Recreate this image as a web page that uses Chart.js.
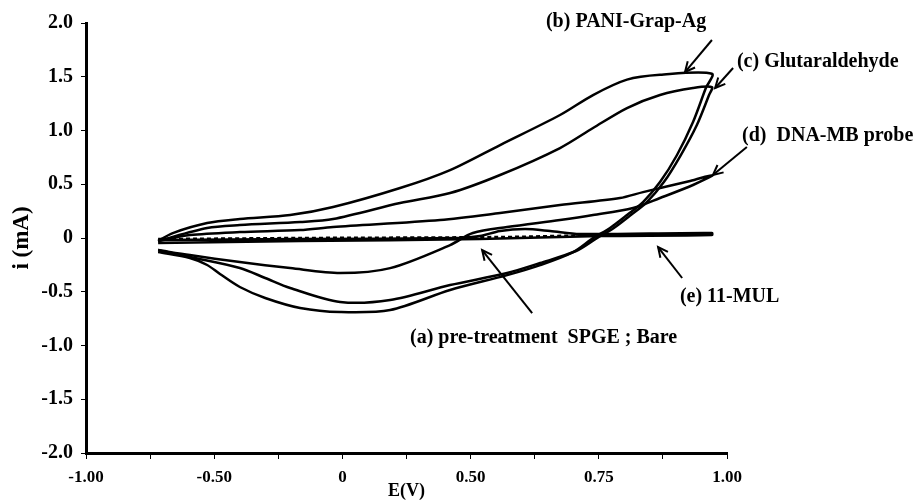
<!DOCTYPE html>
<html>
<head>
<meta charset="utf-8">
<script src="https://cdn.jsdelivr.net/npm/chart.js@4"></script>
<style>
  body { margin: 0; background: #fff; }
  canvas { display: block; }
</style>
</head>
<body>
<canvas id="cv" width="920" height="502"></canvas>
<script>
// tick labels as printed on the figure (one per axis tick)
const xTickLabels = ["-1.00", "", "-0.50", "", "0", "", "0.50", "", "0.75", "", "1.00"];
const yTickLabels = ["-2.0", "-1.5", "-1.0", "-0.5", "0", "0.5", "1.0", "1.5", "2.0"];

// [E, i(mA)], E in axis units
const bare = [[-0.775, -0.019], [-0.332, -0.010], [0.167, 0.0], [0.229, 0.018], [0.292, 0.065], [0.370, 0.083], [0.448, 0.065], [0.541, 0.037], [0.953, 0.046],
  [0.953, 0.027], [0.604, 0.018], [0.229, -0.010], [-0.332, -0.028], [-0.775, -0.047]];
const pani = [[-0.775, -0.028], [-0.729, 0.046], [-0.622, 0.139], [-0.520, 0.176], [-0.363, 0.213], [-0.229, 0.288], [-0.020, 0.465], [0.136, 0.632], [0.292, 0.865], [0.479, 1.144], [0.582, 1.330], [0.688, 1.473], [0.791, 1.518], [0.953, 1.528],
  [0.934, 1.395], [0.894, 1.079], [0.844, 0.772], [0.791, 0.520], [0.738, 0.334], [0.688, 0.213], [0.635, 0.093], [0.582, -0.001], [0.520, -0.131], [0.417, -0.252], [0.314, -0.345], [0.136, -0.484], [-0.051, -0.670], [-0.207, -0.689], [-0.332, -0.651], [-0.441, -0.558], [-0.520, -0.456], [-0.582, -0.335], [-0.622, -0.251], [-0.676, -0.186], [-0.775, -0.131]];
const glut = [[-0.775, -0.028], [-0.622, 0.093], [-0.520, 0.120], [-0.332, 0.148], [-0.229, 0.176], [-0.020, 0.325], [0.136, 0.418], [0.292, 0.586], [0.479, 0.837], [0.582, 1.023], [0.688, 1.209], [0.791, 1.330], [0.894, 1.395], [0.953, 1.404],
  [0.944, 1.330], [0.906, 1.051], [0.856, 0.772], [0.803, 0.520], [0.750, 0.334], [0.700, 0.213], [0.647, 0.093], [0.594, -0.001], [0.529, -0.121], [0.417, -0.233], [0.314, -0.326], [0.136, -0.438], [-0.051, -0.577], [-0.207, -0.595], [-0.363, -0.465], [-0.441, -0.372], [-0.520, -0.279], [-0.676, -0.177], [-0.775, -0.112]];
const probe = [[-0.775, -0.028], [-0.676, 0.027], [-0.520, 0.055], [-0.332, 0.074], [-0.229, 0.102], [0.105, 0.167], [0.292, 0.232], [0.479, 0.306], [0.666, 0.372], [0.738, 0.427], [0.885, 0.530], [0.956, 0.586],
  [0.894, 0.493], [0.791, 0.372], [0.707, 0.279], [0.582, 0.213], [0.479, 0.167], [0.314, 0.102], [0.207, 0.046], [0.136, -0.066], [-0.051, -0.280], [-0.207, -0.326], [-0.363, -0.280], [-0.520, -0.224], [-0.676, -0.159], [-0.775, -0.112]];
const mul = [[-0.775, -0.010], [-0.332, 0.0], [0.292, 0.009], [0.604, 0.027], [0.953, 0.037]];

// labels with arrows: text anchor, arrow tail, arrow head (data units)
const notes = [
  { text: "(b) PANI-Grap-Ag", at: [0.685, 2.009], align: "center", from: [0.953, 1.842], to: [0.869, 1.544] },
  { text: "(c) Glutaraldehyde", at: [1.031, 1.637], align: "left", from: [1.019, 1.581], to: [0.963, 1.395] },
  { text: "(d)  DNA-MB probe", at: [1.047, 0.949], align: "left", from: [1.062, 0.847], to: [0.956, 0.586] },
  { text: "(e) 11-MUL", at: [0.853, -0.549], align: "left", from: [0.86, -0.372], to: [0.785, -0.084] },
  { text: "(a) pre-treatment  SPGE ; Bare", at: [0.011, -0.930], align: "left", from: [0.392, -0.698], to: [0.236, -0.112] }
];

const FONT = "'Liberation Serif', 'Times New Roman', serif";
const pts = a => a.map(p => ({ x: p[0], y: p[1] }));
const curve = (label, arr, dash) => ({
  label, data: pts(arr), showLine: true, borderColor: "#000", borderWidth: 2.5,
  pointRadius: 0, tension: 0.3, fill: false, borderDash: dash || []
});

const notePlugin = {
  id: "notes",
  afterDatasetsDraw(chart) {
    const { ctx, scales: { x, y } } = chart;
    ctx.save();
    ctx.fillStyle = "#000";
    ctx.strokeStyle = "#000";
    ctx.lineWidth = 2;
    ctx.font = "bold 20px " + FONT;
    ctx.textBaseline = "middle";
    notes.forEach(n => {
      ctx.textAlign = n.align;
      ctx.fillText(n.text, x.getPixelForValue(n.at[0]), y.getPixelForValue(n.at[1]));
      const x1 = x.getPixelForValue(n.from[0]), y1 = y.getPixelForValue(n.from[1]);
      const x2 = x.getPixelForValue(n.to[0]), y2 = y.getPixelForValue(n.to[1]);
      ctx.beginPath(); ctx.moveTo(x1, y1); ctx.lineTo(x2, y2); ctx.stroke();
      const ang = Math.atan2(y2 - y1, x2 - x1), h = 11;
      ctx.beginPath();
      ctx.moveTo(x2 - h * Math.cos(ang - 0.45), y2 - h * Math.sin(ang - 0.45));
      ctx.lineTo(x2, y2);
      ctx.lineTo(x2 - h * Math.cos(ang + 0.45), y2 - h * Math.sin(ang + 0.45));
      ctx.stroke();
    });
    ctx.restore();
  }
};

new Chart(document.getElementById("cv"), {
  type: "scatter",
  data: {
    datasets: [
      curve("(a) pre-treatment SPGE ; Bare", bare),
      curve("(b) PANI-Grap-Ag", pani),
      curve("(c) Glutaraldehyde", glut),
      curve("(d) DNA-MB probe", probe),
      curve("(e) 11-MUL", mul, [4, 3])
    ]
  },
  options: {
    responsive: false,
    animation: false,
    layout: { padding: { top: 23, right: 193, left: 0, bottom: 0 } },
    plugins: { legend: { display: false }, tooltip: { enabled: false } },
    scales: {
      x: {
        type: "linear", min: -1, max: 1,
        afterFit: s => { s.height = 49; },
        border: { display: true, color: "#000", width: 3 },
        grid: { drawOnChartArea: false, drawTicks: true, tickLength: 6, color: "#000", lineWidth: 1 },
        ticks: {
          stepSize: 0.2, autoSkip: false, maxRotation: 0, padding: 8, color: "#000",
          font: { family: FONT, size: 17, weight: "bold" },
          callback: (v, i) => xTickLabels[i]
        },
        title: { display: true, text: "E(V)", color: "#000", padding: 0, font: { family: FONT, size: 18, weight: "bold" } }
      },
      y: {
        min: -2, max: 2,
        afterFit: s => { s.width = 86; },
        border: { display: true, color: "#000", width: 3 },
        grid: { drawOnChartArea: false, drawTicks: true, tickLength: 5, color: "#000", lineWidth: 1 },
        ticks: {
          stepSize: 0.5, padding: 8, color: "#000",
          font: { family: FONT, size: 20, weight: "bold" },
          callback: (v, i) => yTickLabels[i]
        },
        title: { display: true, text: "i (mA)", color: "#000", padding: { top: 8 }, font: { family: FONT, size: 23, weight: "bold" } }
      }
    }
  },
  plugins: [notePlugin]
});
</script>
</body>
</html>
